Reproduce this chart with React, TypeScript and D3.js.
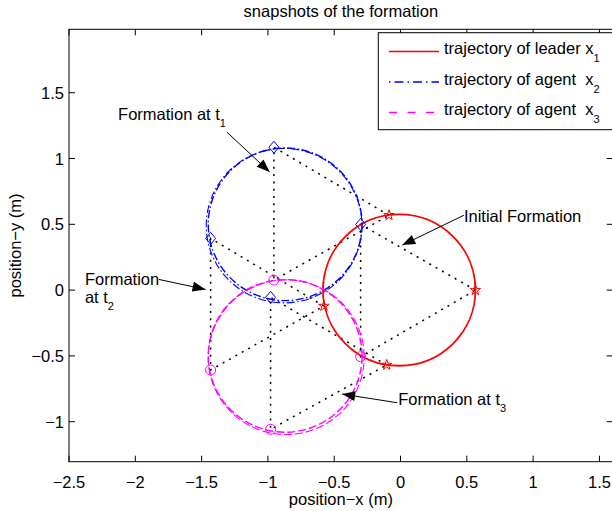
import * as d3 from "d3";

// axis ticks
const xTicks = [-2.5, -2, -1.5, -1, -0.5, 0, 0.5, 1, 1.5];
const yTicks = [-1, -0.5, 0, 0.5, 1, 1.5];

const trajLabels = ["trajectory of leader x", "trajectory of agent  x", "trajectory of agent  x"];
const trajSubs = ["1", "2", "3"];
const trajCenterX = [-0.01, -0.87, -0.87];
const trajCenterY = [0, 0.5, -0.5];
const trajRadius = [0.575, 0.58, 0.58];
// second pass of the agents (slightly off the first one)
const pass2CenterX = [-0.01, -0.878, -0.862];
const pass2CenterY = [0, 0.49, -0.51];
const pass2Radius = [0.575, 0.587, 0.588];

// snapshots t0 (initial), t1, t2, t3
const leaderX = [0.565, -0.087, -0.578, -0.104];
const leaderY = [0.0, 0.569, -0.121, -0.569];
const agent2X = [-0.301, -0.955, -1.432, -0.98];
const agent2Y = [0.499, 1.086, 0.393, -0.055];
const agent3X = [-0.301, -0.955, -1.432, -0.98];
const agent3Y = [-0.506, 0.076, -0.607, -1.058];

// annotations (data coords): text anchor, arrow start, arrow tip
const noteText = ["Formation at t", "Formation", "Initial Formation", "Formation at t"];
const noteSub = ["1", "", "", "3"];
const noteX = [-2.13, -2.38, 0.478, -0.017];
const noteY = [1.29, 0.038, 0.519, -0.873];
const arrowFromX = [-1.309, -1.822, 0.478, -0.025];
const arrowFromY = [1.2, 0.081, 0.569, -0.856];
const arrowToX = [-0.987, -1.47, 0.013, -0.44];
const arrowToY = [0.898, 0.005, 0.342, -0.79];

const colors = ["#ff0000", "#0000ff", "#ff00ff"];
const dashes = [null, "8 2.5 1.5 2.5", "8 3"];
const FONT = "'Liberation Sans', Arial, Helvetica, sans-serif";
const FS = 16.5;

export default function App() {
  const width = 612;
  const height = 511;
  const left = 69, right = 612.7, top = 29.3, bottom = 461.7;

  const x = d3.scaleLinear().domain([-2.5, 1.6]).range([left, right]);
  const y = d3.scaleLinear().domain([-1.304, 1.982]).range([bottom, top]);
  const fmt = d3.format("~g");
  const line = d3.line<[number, number]>().x((d) => x(d[0])).y((d) => y(d[1]));
  const star = d3.symbol(d3.symbolStar, 34)();
  const diamond = "M0,-6L5,0L0,6L-5,0Z";

  const rx = (r: number) => x(r) - x(0);
  const ry = (r: number) => y(0) - y(r);

  const arrowHead = (i: number) => {
    const x0 = x(arrowFromX[i]), y0 = y(arrowFromY[i]);
    const x1 = x(arrowToX[i]), y1 = y(arrowToY[i]);
    const a = Math.atan2(y1 - y0, x1 - x0);
    const L = 13, W = 5;
    const bx = x1 - L * Math.cos(a), by = y1 - L * Math.sin(a);
    const px = -Math.sin(a) * W, py = Math.cos(a) * W;
    return `M${x1},${y1}L${bx + px},${by + py}L${bx - px},${by - py}Z`;
  };

  return (
    <svg width={width} height={height} style={{ position: "absolute", left: 0, top: 0, background: "#fff" }} fontFamily={FONT}>
      <rect x={0} y={0} width={width} height={height} fill="#fff" />
      <defs>
        <clipPath id="plotArea">
          <rect x={left} y={top} width={right - left} height={bottom - top} />
        </clipPath>
      </defs>

      <g clipPath="url(#plotArea)">
        {/* formation triangles */}
        {leaderX.map((lx, i) => (
          <path key={"tri" + i}
            d={line([[lx, leaderY[i]], [agent2X[i], agent2Y[i]], [agent3X[i], agent3Y[i]], [lx, leaderY[i]]]) || ""}
            fill="none" stroke="#000" strokeWidth={1.5} strokeDasharray="2 5.3" />
        ))}

        {/* trajectories */}
        {trajCenterX.map((cx, i) => (
          <g key={"traj" + i}>
            <ellipse cx={x(cx)} cy={y(trajCenterY[i])} rx={rx(trajRadius[i])} ry={ry(trajRadius[i])}
              fill="none" stroke={colors[i]} strokeWidth={i === 0 ? 1.8 : 1.4}
              strokeDasharray={dashes[i] ?? undefined} />
            {i > 0 && (
              <ellipse cx={x(pass2CenterX[i])} cy={y(pass2CenterY[i])} rx={rx(pass2Radius[i])} ry={ry(pass2Radius[i])}
                fill="none" stroke={colors[i]} strokeWidth={1.1}
                strokeDasharray={dashes[i] ?? undefined} strokeDashoffset={5} />
            )}
          </g>
        ))}

        {/* markers */}
        {leaderX.map((lx, i) => (
          <path key={"ls" + i} d={star || ""} transform={`translate(${x(lx)},${y(leaderY[i])})`}
            fill="none" stroke={colors[0]} strokeWidth={1} />
        ))}
        {agent2X.map((ax, i) => (
          <path key={"a2" + i} d={diamond} transform={`translate(${x(ax)},${y(agent2Y[i])})`}
            fill="none" stroke={colors[1]} strokeWidth={1} />
        ))}
        {agent3X.map((ax, i) => (
          <circle key={"a3" + i} cx={x(ax)} cy={y(agent3Y[i])} r={5}
            fill="none" stroke={colors[2]} strokeWidth={1} />
        ))}

        {/* annotation arrows */}
        {noteText.map((_, i) => (
          <g key={"arr" + i}>
            <line x1={x(arrowFromX[i])} y1={y(arrowFromY[i])} x2={x(arrowToX[i])} y2={y(arrowToY[i])}
              stroke="#000" strokeWidth={1} />
            <path d={arrowHead(i)} fill="#000" />
          </g>
        ))}
      </g>

      {/* annotation texts */}
      {noteText.map((t, i) => (
        <text key={"note" + i} x={x(noteX[i])} y={y(noteY[i])} fontSize={FS} fill="#000">
          {t}
          {noteSub[i] && <tspan dy={7} fontSize={11}>{noteSub[i]}</tspan>}
        </text>
      ))}
      <text x={x(noteX[1])} y={y(noteY[1]) + 18} fontSize={FS} fill="#000">
        at t<tspan dy={7} fontSize={11}>2</tspan>
      </text>

      {/* axes box */}
      <rect x={left} y={top} width={right - left} height={bottom - top} fill="none" stroke="#000" strokeWidth={1} />
      {xTicks.map((t) => (
        <g key={"xt" + t}>
          <line x1={x(t)} x2={x(t)} y1={bottom} y2={bottom - 6} stroke="#000" />
          <line x1={x(t)} x2={x(t)} y1={top} y2={top + 6} stroke="#000" />
          <text x={x(t)} y={bottom + 26} textAnchor="middle" fontSize={FS}>{fmt(t)}</text>
        </g>
      ))}
      {yTicks.map((t) => (
        <g key={"yt" + t}>
          <line x1={left} x2={left + 6} y1={y(t)} y2={y(t)} stroke="#000" />
          <line x1={right} x2={right - 6} y1={y(t)} y2={y(t)} stroke="#000" />
          <text x={left - 5} y={y(t) + 6} textAnchor="end" fontSize={FS}>{fmt(t)}</text>
        </g>
      ))}

      <text x={(left + right) / 2} y={17} textAnchor="middle" fontSize={FS}>snapshots of the formation</text>
      <text x={(left + right) / 2} y={505} textAnchor="middle" fontSize={FS}>position−x (m)</text>
      <text transform={`translate(21,${(top + bottom) / 2}) rotate(-90)`} textAnchor="middle" fontSize={FS}>position−y (m)</text>

      {/* legend */}
      <g>
        <rect x={378.3} y={32.7} width={240} height={97} fill="#fff" stroke="#000" strokeWidth={1} />
        {trajLabels.map((lab, i) => (
          <g key={"lg" + i} transform={`translate(0,${i * 30.5})`}>
            <path d="M389,51.5H439" fill="none" stroke={colors[i]} strokeWidth={1.5}
              strokeDasharray={i === 1 ? "1.5 4 9 4" : i === 2 ? "8 10.5" : undefined} />
            <text x={444} y={54} fontSize={FS} style={{ whiteSpace: "pre" }}>
              {lab}
              <tspan dy={8} fontSize={11}>{trajSubs[i]}</tspan>
            </text>
          </g>
        ))}
      </g>
    </svg>
  );
}
